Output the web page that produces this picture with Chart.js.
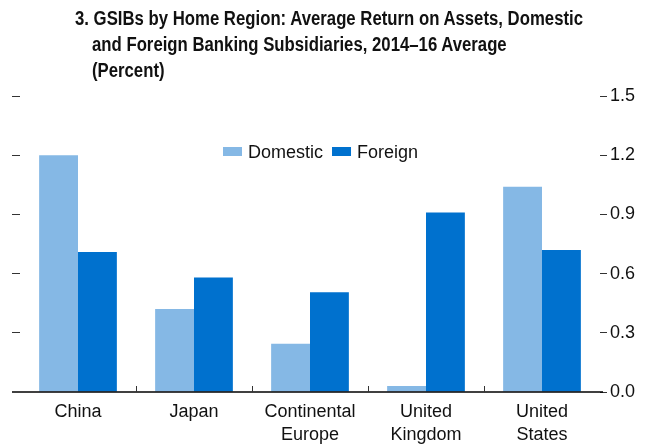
<!DOCTYPE html>
<html>
<head>
<meta charset="utf-8">
<script src="https://cdn.jsdelivr.net/npm/chart.js@4"></script>
<style>
  html, body { margin: 0; padding: 0; background: #fff; }
  #wrap { position: relative; width: 645px; height: 445px; }
  #title {
    position: absolute; left: 75px; top: 5px;
    font-family: "Liberation Sans", Arial, sans-serif;
    font-weight: bold; font-size: 20px; line-height: 26px; color: #111;
    white-space: nowrap; transform-origin: 0 0;
  }
  #title .line { display: block; }
  #title #first { display: inline-block; }
</style>
</head>
<body>
<div id="wrap">
  <div id="title">
    <div class="line"><span id="first">3. GSIBs by Home Region: Average Return on Assets, Domestic</span></div>
    <div class="line indent">and Foreign Banking Subsidiaries, 2014–16 Average</div>
    <div class="line indent">(Percent)</div>
  </div>
  <canvas id="chart" width="645" height="445"></canvas>
</div>
<script>
const categories = [['China'], ['Japan'], ['Continental', 'Europe'], ['United', 'Kingdom'], ['United', 'States']];
const domestic = [1.20, 0.42, 0.245, 0.03, 1.04];
const foreign = [0.71, 0.58, 0.505, 0.91, 0.72];
const yTicks = [0.0, 0.3, 0.6, 0.9, 1.2, 1.5];

const FONT = '"Liberation Sans", Arial, sans-serif';

// squeeze the title to the condensed width of the original
const title = document.getElementById('title');
const k = 508 / document.getElementById('first').getBoundingClientRect().width;
title.style.transform = `scaleX(${k})`;
document.querySelectorAll('#title .indent').forEach((el) => {
  el.style.paddingLeft = `${17 / k}px`;
});

// legend inside the plot + baseline + inward category ticks
const extras = {
  id: 'extras',
  afterDatasetsDraw(chart) {
    const { ctx, chartArea, scales } = chart;
    const y0 = scales.y.getPixelForValue(0);
    ctx.save();
    ctx.strokeStyle = '#000';
    ctx.lineWidth = 1.5;
    ctx.beginPath();
    ctx.moveTo(chartArea.left - 8, y0);
    ctx.lineTo(chartArea.right + 3, y0);
    ctx.stroke();
    ctx.lineWidth = 1;
    ctx.strokeStyle = '#333';
    for (let i = 1; i < categories.length; i += 1) {
      const x = Math.round((scales.x.getPixelForValue(i - 1) + scales.x.getPixelForValue(i)) / 2) + 0.5;
      ctx.beginPath();
      ctx.moveTo(x, y0);
      ctx.lineTo(x, y0 - 6);
      ctx.stroke();
    }
    // legend
    ctx.font = '18px ' + FONT;
    ctx.textBaseline = 'middle';
    const ly = 152;
    let lx = 223;
    chart.data.datasets.forEach((ds) => {
      ctx.fillStyle = ds.backgroundColor;
      ctx.fillRect(lx, ly - 5, 19, 9);
      ctx.fillStyle = '#111';
      ctx.fillText(ds.label, lx + 25, ly + 1);
      lx += 25 + ctx.measureText(ds.label).width + 9;
    });
    ctx.restore();
  }
};

new Chart(document.getElementById('chart'), {
  type: 'bar',
  data: {
    labels: categories,
    datasets: [
      { label: 'Domestic', data: domestic, backgroundColor: '#85b8e5', yAxisID: 'y' },
      { label: 'Foreign', data: foreign, backgroundColor: '#0071ce', yAxisID: 'y' }
    ]
  },
  options: {
    responsive: false,
    animation: false,
    categoryPercentage: 0.67,
    barPercentage: 1.0,
    layout: { padding: { top: 96, left: 0, right: 0, bottom: 0 } },
    plugins: { legend: { display: false }, tooltip: { enabled: false } },
    scales: {
      x: {
        grid: { display: false },
        border: { display: false },
        ticks: { color: '#111', font: { family: FONT, size: 18, lineHeight: 1.25 }, padding: 1, maxRotation: 0 },
        afterFit(scale) { scale.height = 53; }
      },
      y: {
        position: 'right',
        min: 0, max: 1.5,
        afterBuildTicks(scale) { scale.ticks = yTicks.map((v) => ({ value: v })); },
        grid: { drawOnChartArea: false, tickLength: 7, color: '#333' },
        border: { display: false },
        ticks: {
          color: '#111', padding: 3,
          font: { family: FONT, size: 18 },
          callback(value) { return value.toFixed(1); }
        },
        afterFit(scale) { scale.width = 45; }
      },
      yl: {
        position: 'left',
        min: 0, max: 1.5,
        afterBuildTicks(scale) { scale.ticks = yTicks.filter((v) => v > 0).map((v) => ({ value: v })); },
        grid: { drawOnChartArea: false, tickLength: 8, color: '#333' },
        border: { display: false },
        ticks: { callback() { return ''; } },
        afterFit(scale) { scale.width = 20; }
      }
    }
  },
  plugins: [extras]
});
</script>
</body>
</html>
